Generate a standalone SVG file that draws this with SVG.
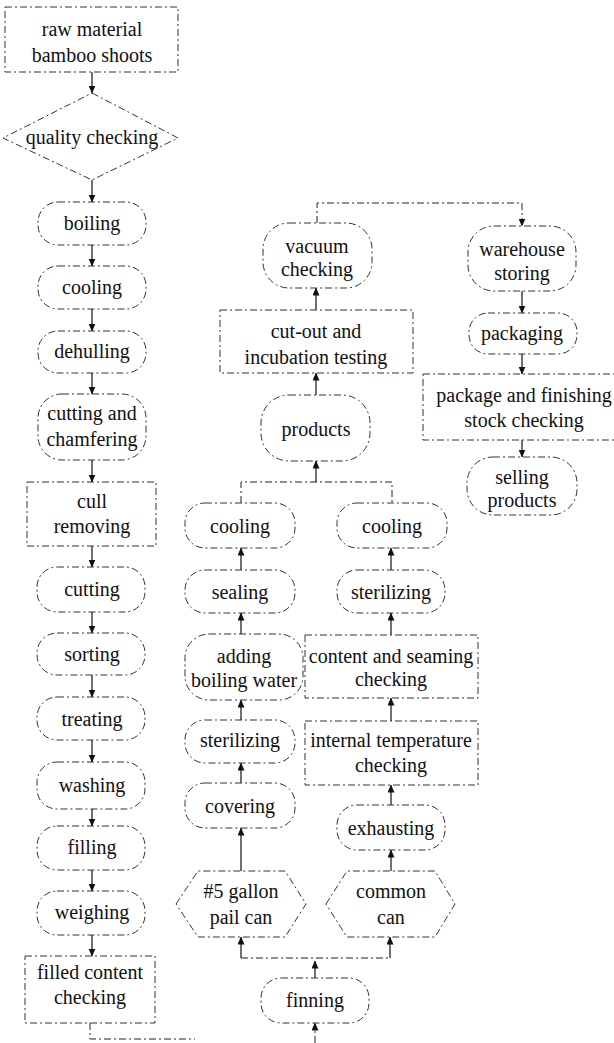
<svg xmlns="http://www.w3.org/2000/svg" width="614" height="1043" viewBox="0 0 614 1043">
<defs>
<marker id="ah" markerUnits="userSpaceOnUse" markerWidth="8" markerHeight="9" refX="7.5" refY="3.5" orient="auto">
<path d="M0,0 L8,3.5 L0,7 Z" fill="#111"/>
</marker>
<style>
.n{fill:#fff;stroke:#333;stroke-width:1;stroke-dasharray:7 3 2 3}
.t{font-family:"Liberation Serif","Times New Roman",serif;font-size:20px;fill:#111;text-anchor:middle}
.c{fill:none;stroke:#111;stroke-width:1.2}
.cd{fill:none;stroke:#222;stroke-width:1;stroke-dasharray:7 3 2 3}
.a{marker-end:url(#ah)}
</style>
</defs>
<rect width="614" height="1043" fill="#fff"/>
<g id="connectors">
<path class="c a" d="M92,72 V93"/>
<path class="c a" d="M92,180 V202"/>
<path class="c a" d="M92,245 V266"/>
<path class="c a" d="M92,309 V331"/>
<path class="c a" d="M92,373 V394"/>
<path class="c a" d="M92,460 V482"/>
<path class="c a" d="M92,546 V567"/>
<path class="c a" d="M92,612 V633"/>
<path class="c a" d="M92,675 V697"/>
<path class="c a" d="M92,740 V762"/>
<path class="c a" d="M92,809 V826"/>
<path class="c a" d="M92,870 V891"/>
<path class="c a" d="M92,935 V956"/>
<path class="cd" d="M90,1023 V1039 H195"/>
<path class="cd a" d="M315,1043 V1023"/>
<path class="c a" d="M315,978 V961"/>
<path class="cd" d="M241,958 H390"/>
<path class="c a" d="M241,958 V937"/>
<path class="c a" d="M390,958 V937"/>
<path class="c a" d="M241,871 V828"/>
<path class="c a" d="M241,783 V763"/>
<path class="c a" d="M241,720 V700"/>
<path class="c a" d="M241,634 V613"/>
<path class="c a" d="M241,570 V548"/>
<path class="cd" d="M241,503 V482 H392 V503"/>
<path class="c a" d="M316,482 V461"/>
<path class="c a" d="M391,871 V850"/>
<path class="c a" d="M391,805 V785"/>
<path class="c a" d="M391,721 V698"/>
<path class="c a" d="M391,635 V613"/>
<path class="c a" d="M391,570 V548"/>
<path class="c a" d="M316,395 V373"/>
<path class="c a" d="M316,310 V288"/>
<path class="cd a" d="M317,223 V203 H522 V226"/>
<path class="c a" d="M522,291 V313"/>
<path class="c a" d="M522,354 V374"/>
<path class="c a" d="M522,440 V457"/>
</g>
<g id="raw"><rect class="n" x="5" y="7" width="173" height="65"/><text class="t" x="92" y="36">raw material</text><text class="t" x="92" y="62">bamboo shoots</text></g>
<g id="quality"><polygon class="n" points="92,93 178,138 92,180 3,138"/><text class="t" x="92" y="144">quality checking</text></g>
<g id="boiling"><rect class="n" x="38" y="202" width="108" height="43" rx="20"/><text class="t" x="92" y="230">boiling</text></g>
<g id="cooling1"><rect class="n" x="38" y="266" width="108" height="43" rx="20"/><text class="t" x="92" y="294">cooling</text></g>
<g id="dehulling"><rect class="n" x="38" y="331" width="108" height="42" rx="20"/><text class="t" x="92" y="358">dehulling</text></g>
<g id="chamfering"><rect class="n" x="38" y="394" width="108" height="66" rx="24"/><text class="t" x="92" y="420">cutting and</text><text class="t" x="92" y="446">chamfering</text></g>
<g id="cull"><rect class="n" x="27" y="482" width="129" height="64"/><text class="t" x="92" y="508">cull</text><text class="t" x="92" y="533">removing</text></g>
<g id="cutting"><rect class="n" x="37" y="567" width="108" height="45" rx="20"/><text class="t" x="92" y="596">cutting</text></g>
<g id="sorting"><rect class="n" x="37" y="633" width="108" height="42" rx="20"/><text class="t" x="92" y="661">sorting</text></g>
<g id="treating"><rect class="n" x="37" y="697" width="108" height="43" rx="20"/><text class="t" x="92" y="726">treating</text></g>
<g id="washing"><rect class="n" x="37" y="762" width="108" height="47" rx="20"/><text class="t" x="92" y="792">washing</text></g>
<g id="filling"><rect class="n" x="37" y="826" width="108" height="44" rx="20"/><text class="t" x="92" y="854">filling</text></g>
<g id="weighing"><rect class="n" x="37" y="891" width="108" height="44" rx="20"/><text class="t" x="92" y="919">weighing</text></g>
<g id="filled"><rect class="n" x="25" y="956" width="130" height="67"/><text class="t" x="90" y="979">filled content</text><text class="t" x="90" y="1004">checking</text></g>
<g id="finning"><rect class="n" x="261" y="978" width="108" height="45" rx="20"/><text class="t" x="315" y="1007">finning</text></g>
<g id="pail"><polygon class="n" points="176,904 198,871 285,871 306,904 285,937 198,937"/><text class="t" x="241" y="898">#5 gallon</text><text class="t" x="241" y="924">pail can</text></g>
<g id="common"><polygon class="n" points="326,904 347,871 435,871 455,904 435,937 347,937"/><text class="t" x="391" y="898">common</text><text class="t" x="391" y="924">can</text></g>
<g id="covering"><rect class="n" x="185" y="783" width="110" height="45" rx="20"/><text class="t" x="240" y="813">covering</text></g>
<g id="exhausting"><rect class="n" x="337" y="805" width="108" height="45" rx="20"/><text class="t" x="391" y="835">exhausting</text></g>
<g id="sterilizing1"><rect class="n" x="185" y="720" width="110" height="43" rx="20"/><text class="t" x="240" y="747">sterilizing</text></g>
<g id="internal"><rect class="n" x="305" y="721" width="173" height="64"/><text class="t" x="391" y="747">internal temperature</text><text class="t" x="391" y="772">checking</text></g>
<g id="adding"><rect class="n" x="185" y="634" width="118" height="66" rx="24"/><text class="t" x="244" y="663">adding</text><text class="t" x="244" y="687">boiling water</text></g>
<g id="content"><rect class="n" x="305" y="635" width="173" height="63"/><text class="t" x="391" y="663">content and seaming</text><text class="t" x="391" y="686">checking</text></g>
<g id="sealing"><rect class="n" x="185" y="570" width="110" height="43" rx="20"/><text class="t" x="240" y="599">sealing</text></g>
<g id="sterilizing2"><rect class="n" x="337" y="570" width="108" height="43" rx="20"/><text class="t" x="391" y="599">sterilizing</text></g>
<g id="cooling2"><rect class="n" x="185" y="503" width="110" height="45" rx="20"/><text class="t" x="240" y="533">cooling</text></g>
<g id="cooling3"><rect class="n" x="337" y="503" width="110" height="45" rx="20"/><text class="t" x="392" y="533">cooling</text></g>
<g id="products"><rect class="n" x="261" y="395" width="109" height="66" rx="28"/><text class="t" x="316" y="436">products</text></g>
<g id="cutout"><rect class="n" x="220" y="310" width="193" height="63"/><text class="t" x="316" y="338">cut-out and</text><text class="t" x="316" y="364">incubation testing</text></g>
<g id="vacuum"><rect class="n" x="263" y="223" width="109" height="65" rx="26"/><text class="t" x="317" y="253">vacuum</text><text class="t" x="317" y="276">checking</text></g>
<g id="warehouse"><rect class="n" x="468" y="226" width="108" height="65" rx="26"/><text class="t" x="522" y="256">warehouse</text><text class="t" x="522" y="280">storing</text></g>
<g id="packaging"><rect class="n" x="469" y="313" width="108" height="41" rx="19"/><text class="t" x="522" y="340">packaging</text></g>
<g id="package"><rect class="n" x="423" y="374" width="195" height="66"/><text class="t" x="524" y="402">package and finishing</text><text class="t" x="524" y="427">stock checking</text></g>
<g id="selling"><rect class="n" x="467" y="457" width="110" height="58" rx="26"/><text class="t" x="522" y="484">selling</text><text class="t" x="522" y="507">products</text></g>
</svg>
